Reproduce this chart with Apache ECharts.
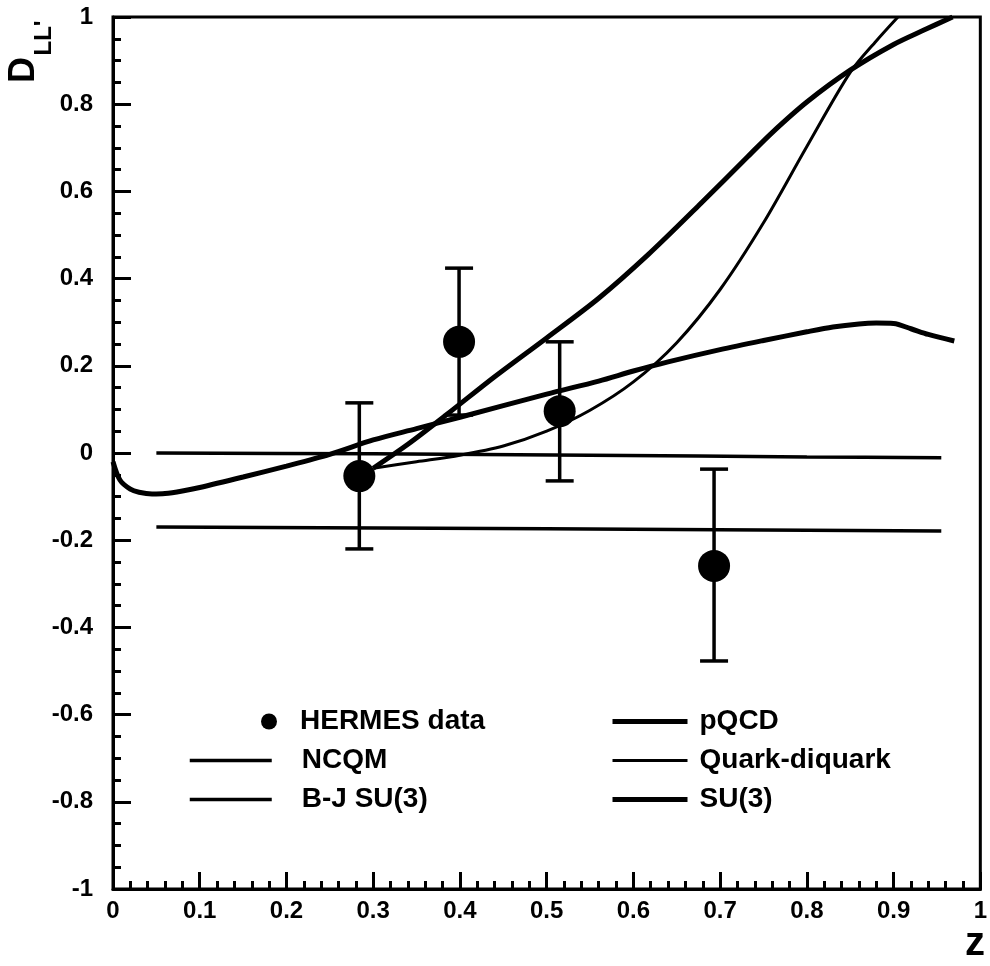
<!DOCTYPE html>
<html>
<head>
<meta charset="utf-8">
<script src="https://cdn.jsdelivr.net/npm/echarts@6/dist/echarts.min.js"></script>
<style>
  html, body { margin: 0; padding: 0; background: #fff; }
  #chart { width: 990px; height: 966px; }
</style>
</head>
<body>
<div id="chart"></div>
<script>
// HERMES data points: z, D_LL', error bar low / high
const hermesZ = [0.284, 0.399, 0.515, 0.693];
const hermesD = [-0.053, 0.255, 0.096, -0.259];
const hermesLo = [-0.22, 0.087, -0.064, -0.477];
const hermesHi = [0.115, 0.424, 0.255, -0.037];

// model curves
const ncqmZ = [0.05, 0.3, 0.55, 0.8, 0.955];
const ncqmD = [0.0, -0.002, -0.005, -0.009, -0.011];

const bjZ = [0.05, 0.5, 0.955];
const bjD = [-0.170, -0.174, -0.179];

const su3Z = [0, 0.008, 0.02, 0.03, 0.045, 0.06, 0.08, 0.1, 0.15, 0.2, 0.25, 0.3, 0.35, 0.4, 0.5, 0.56, 0.6, 0.64, 0.7, 0.75, 0.8, 0.83, 0.86, 0.88, 0.9, 0.92, 0.94, 0.97];
const su3D = [-0.02, -0.062, -0.083, -0.09, -0.094, -0.093, -0.087, -0.079, -0.055, -0.03, -0.003, 0.03, 0.056, 0.082, 0.135, 0.165, 0.188, 0.209, 0.237, 0.258, 0.278, 0.289, 0.296, 0.298, 0.297, 0.285, 0.272, 0.257];

const pqcdZ = [0.3, 0.34, 0.384, 0.44, 0.5, 0.56, 0.617, 0.675, 0.732, 0.76, 0.8, 0.85, 0.9, 0.935, 0.968];
const pqcdD = [-0.035, 0.02, 0.087, 0.175, 0.264, 0.355, 0.455, 0.567, 0.68, 0.735, 0.805, 0.878, 0.937, 0.97, 1.0];

const qdZ = [0.3, 0.35, 0.4, 0.45, 0.5, 0.55, 0.6, 0.65, 0.7, 0.75, 0.8, 0.85, 0.88, 0.905];
const qdD = [-0.035, -0.02, -0.005, 0.016, 0.05, 0.098, 0.163, 0.253, 0.375, 0.528, 0.703, 0.873, 0.945, 1.0];

const xTicks = { min: 0, max: 1, interval: 0.1 };
const yTicks = { min: -1, max: 1, interval: 0.2 };

const FONT = "'Liberation Sans', Arial, sans-serif";

function pares(xs, ys) {
    return xs.map((x, i) => [x, ys[i]]);
}

const chart = echarts.init(document.getElementById('chart'));

const anchos = { 'NCQM': 3.5, 'B-J SU(3)': 3.5, 'SU(3)': 5, 'pQCD': 5, 'Quark-diquark': 3 };

const lineas = [
    { name: 'NCQM', z: ncqmZ, d: ncqmD },
    { name: 'B-J SU(3)', z: bjZ, d: bjD },
    { name: 'SU(3)', z: su3Z, d: su3D },
    { name: 'pQCD', z: pqcdZ, d: pqcdD },
    { name: 'Quark-diquark', z: qdZ, d: qdD }
].map(l => ({
    name: l.name,
    type: 'line',
    data: pares(l.z, l.d),
    smooth: 0.3,
    symbol: 'none',
    clip: true,
    lineStyle: { color: '#000', width: anchos[l.name] },
    itemStyle: { color: '#000' },
    z: 2
}));

const textoLeyenda = { fontFamily: FONT, fontWeight: 'bold', fontSize: 28, color: '#000', lineHeight: 39 };

// legend entry for a line: no marker, line as thick as in the plot
function entrada(nombre) {
    return {
        name: nombre,
        itemStyle: { color: 'rgba(0,0,0,0)', borderWidth: 0 },
        lineStyle: { color: '#000', width: anchos[nombre] }
    };
}

chart.setOption({
    animation: false,
    grid: {
        left: 113, top: 17, width: 871, height: 872,
        show: true, borderColor: '#000', borderWidth: 3
    },
    xAxis: {
        type: 'value',
        min: xTicks.min, max: xTicks.max, interval: xTicks.interval,
        axisLine: { onZero: false, lineStyle: { color: '#000', width: 3 } },
        axisTick: { inside: true, length: 17, lineStyle: { color: '#000', width: 3 } },
        minorTick: { show: true, splitNumber: 5, length: 8, lineStyle: { color: '#000', width: 3 } },
        splitLine: { show: false },
        axisLabel: { color: '#000', fontFamily: FONT, fontWeight: 'bold', fontSize: 24, margin: 10 }
    },
    yAxis: {
        type: 'value',
        min: yTicks.min, max: yTicks.max, interval: yTicks.interval,
        axisLine: { onZero: false, lineStyle: { color: '#000', width: 3 } },
        axisTick: { inside: true, length: 18, lineStyle: { color: '#000', width: 3 } },
        minorTick: { show: true, splitNumber: 4, length: 8, lineStyle: { color: '#000', width: 3 } },
        splitLine: { show: false },
        axisLabel: { color: '#000', fontFamily: FONT, fontWeight: 'bold', fontSize: 24, margin: 20 }
    },
    legend: [
        {
            data: [{ name: 'HERMES data', icon: 'circle', itemStyle: { color: '#000', opacity: 1 } }],
            left: 261, top: 702, padding: 0,
            itemWidth: 16, itemHeight: 16,
            textStyle: Object.assign({ padding: [0, 0, 0, 18] }, textoLeyenda),
            selectedMode: false
        },
        {
            data: ['NCQM', 'B-J SU(3)'].map(entrada),
            orient: 'vertical', left: 188, top: 741, padding: 0,
            itemWidth: 82, itemHeight: 14, itemGap: 0,
            textStyle: Object.assign({ padding: [0, 0, 0, 25] }, textoLeyenda),
            selectedMode: false
        },
        {
            data: ['pQCD', 'Quark-diquark', 'SU(3)'].map(entrada),
            orient: 'vertical', left: 610, top: 702, padding: 0,
            itemWidth: 75, itemHeight: 14, itemGap: 0,
            textStyle: Object.assign({ padding: [0, 0, 0, 7] }, textoLeyenda),
            selectedMode: false
        }
    ],
    graphic: [
        { type: 'text', x: 24, y: 70, rotation: Math.PI / 2,
          style: { text: 'D', font: 'bold 36px ' + FONT, fill: '#000', align: 'center', verticalAlign: 'middle' } },
        { type: 'text', x: 44, y: 38, rotation: Math.PI / 2,
          style: { text: "LL'", font: 'bold 24px ' + FONT, fill: '#000', align: 'center', verticalAlign: 'middle' } },
        { type: 'text', x: 975, y: 944,
          style: { text: 'z', font: 'bold 40px ' + FONT, fill: '#000', align: 'center', verticalAlign: 'middle' } }
    ],
    series: lineas.concat([
        {
            name: 'errores',
            type: 'custom',
            data: hermesZ.map((z, i) => [z, hermesLo[i], hermesHi[i]]),
            renderItem: function (params, api) {
                const z = api.value(0);
                const abajo = api.coord([z, api.value(1)]);
                const arriba = api.coord([z, api.value(2)]);
                const m = 14;
                const estilo = { stroke: '#000', lineWidth: 3.5 };
                return {
                    type: 'group',
                    children: [
                        { type: 'line', shape: { x1: abajo[0], y1: abajo[1], x2: arriba[0], y2: arriba[1] }, style: estilo },
                        { type: 'line', shape: { x1: abajo[0] - m, y1: abajo[1], x2: abajo[0] + m, y2: abajo[1] }, style: estilo },
                        { type: 'line', shape: { x1: arriba[0] - m, y1: arriba[1], x2: arriba[0] + m, y2: arriba[1] }, style: estilo }
                    ]
                };
            },
            z: 3
        },
        {
            name: 'HERMES data',
            type: 'scatter',
            data: pares(hermesZ, hermesD),
            symbol: 'circle',
            symbolSize: 32,
            itemStyle: { color: '#000', opacity: 1 },
            z: 4
        }
    ])
});
</script>
</body>
</html>
